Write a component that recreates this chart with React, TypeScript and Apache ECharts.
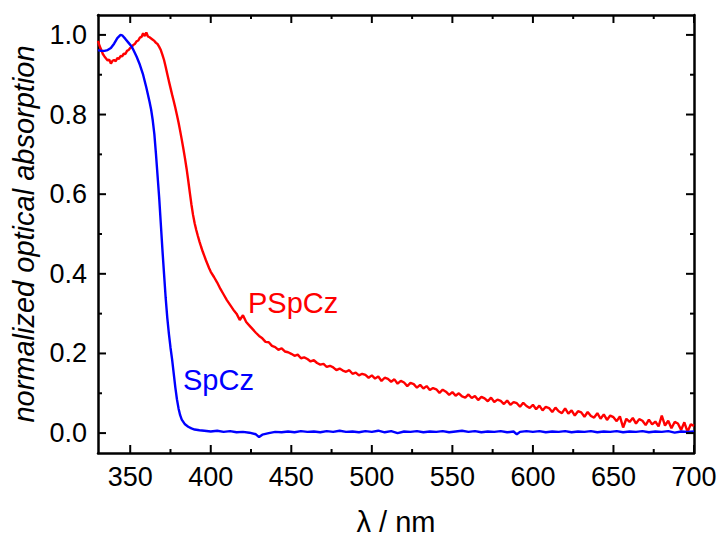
import React, { useEffect, useRef } from "react";
import * as echarts from "echarts";

// ---- data ----
const spczWavelength = [
  330, 332, 334, 336, 338, 340, 342, 344, 345, 347, 349, 351, 352, 354, 356, 358, 360, 362, 363, 364, 365, 366, 367,
  368, 369, 370, 371, 372, 373, 374, 375, 376, 377, 378, 379, 380, 381, 382, 384, 386, 388, 390, 393,
  396, 400, 404, 408, 412, 416, 420, 424, 428, 430, 432, 436, 440, 444, 448, 452, 456, 460, 464, 468, 472, 476,
  480, 484, 488, 492, 496, 500, 504, 508, 512, 516, 520, 524, 528, 532, 536, 540, 544, 548, 552, 556, 560, 564,
  568, 572, 576, 580, 584, 588, 590, 592, 596, 600, 604, 608, 612, 616, 620, 624, 628, 632, 636, 640, 644, 648,
  652, 656, 660, 664, 668, 672, 676, 680, 684, 688, 692, 696, 700,
];
const spczAbsorption = [
  0.962, 0.96, 0.96, 0.962, 0.967, 0.978, 0.992, 1.0, 0.999, 0.99, 0.98, 0.97, 0.962, 0.945, 0.925, 0.9, 0.868, 0.832,
  0.812, 0.785, 0.75, 0.7, 0.645, 0.59, 0.525, 0.46, 0.4, 0.34, 0.29, 0.25, 0.215, 0.185, 0.15, 0.115, 0.085, 0.062,
  0.045, 0.034, 0.022, 0.016, 0.012, 0.009, 0.007,
  0.006, 0.004, 0.006, 0.003, 0.005, 0.002, 0.003, 0.001, -0.003, -0.01, -0.004, 0.0, 0.003, 0.002, 0.004, 0.002,
  0.005, 0.003, 0.004, 0.002, 0.005, 0.003, 0.006, 0.003, 0.004, 0.002, 0.005, 0.003, 0.006, 0.002, 0.005, 0.0,
  0.004, 0.003, 0.005, 0.002, 0.004, 0.003, 0.005, 0.002, 0.004, 0.006, 0.003, 0.005, 0.002, 0.004, 0.003, 0.005,
  0.002, 0.004, -0.003, 0.003, 0.005, 0.003, 0.005, 0.002, 0.004, 0.003, 0.005, 0.002, 0.004, 0.003, 0.005, 0.002,
  0.004, 0.003, 0.005, 0.002, 0.004, 0.003, 0.005, 0.002, 0.004, 0.003, 0.005, 0.001, 0.004, 0.003, 0.004,
];

const pspczWavelength = [
  330, 331, 332, 333, 334, 335, 336, 337, 338, 339, 340, 341, 342, 343, 344, 345, 346, 347, 348, 349, 350, 351, 352,
  353, 354, 355, 356, 357, 358, 359, 360, 361, 362, 363, 364, 365, 366, 367, 368, 369, 370, 371, 372, 373, 374, 375,
  376, 377, 378, 379, 380, 381, 382, 383, 384, 385, 386, 387, 388, 389, 390, 391, 392, 393, 394, 395, 396, 397, 398,
  399, 400, 402, 404, 406, 408, 410, 412, 414, 416, 418, 420, 422, 424, 426, 428, 430, 432, 434, 436, 438, 440, 442,
  444, 446, 448, 450, 452, 454, 456, 458, 460, 462, 464, 466, 468, 470, 472, 474, 476, 478, 480, 482, 484, 486, 488,
  490, 492, 494, 496, 498, 500, 502, 504, 506, 508, 510, 512, 514, 516, 518, 520, 522, 524, 526, 528, 530, 532, 534,
  536, 538, 540, 542, 544, 546, 548, 550, 552, 554, 556, 558, 560, 562, 564, 566, 568, 570, 572, 574, 576, 578, 580,
  582, 584, 586, 588, 590, 592, 594, 596, 598, 600, 602, 604, 606, 608, 610, 612, 614, 616, 618, 620, 622, 624, 626,
  628, 630, 632, 634, 636, 638, 640, 642, 644, 646, 648, 650, 652, 654, 656, 658, 660, 662, 664, 666, 668, 670, 672,
  674, 676, 678, 680, 682, 684, 686, 688, 690, 692, 694, 696, 698, 700,
];
const pspczAbsorption = [
  // 330 – 399 (1 nm)
  0.985, 0.972, 0.963, 0.952, 0.946, 0.941, 0.936, 0.938, 0.928, 0.935, 0.937, 0.934, 0.942, 0.94, 0.947, 0.946,
  0.953, 0.952, 0.96, 0.962, 0.967, 0.97, 0.975, 0.978, 0.984, 0.986, 0.993, 0.995, 1.004, 0.997, 1.006, 0.996,
  0.994, 0.991, 0.988, 0.985, 0.98, 0.977, 0.97, 0.962, 0.95, 0.937, 0.92, 0.902, 0.884, 0.867, 0.85, 0.834, 0.817,
  0.799, 0.78, 0.759, 0.737, 0.714, 0.69, 0.664, 0.635, 0.604, 0.574, 0.548, 0.527, 0.51, 0.495, 0.481, 0.468,
  0.456, 0.445, 0.434, 0.424, 0.414,
  // 400 – 438 (2 nm)
  0.405, 0.392, 0.378, 0.362, 0.348, 0.334, 0.322, 0.31, 0.3, 0.284, 0.296, 0.279, 0.27, 0.261, 0.252, 0.244,
  0.238, 0.229, 0.228, 0.219,
  // 440 – 700 (2 nm)
  0.216, 0.209, 0.213, 0.205, 0.203, 0.199, 0.194, 0.197, 0.188, 0.19, 0.186, 0.18, 0.183, 0.176, 0.172, 0.174,
  0.166, 0.169, 0.165, 0.158, 0.162, 0.157, 0.154, 0.158, 0.149, 0.152, 0.145, 0.149, 0.146, 0.139, 0.145, 0.137,
  0.142, 0.131, 0.139, 0.136, 0.129, 0.135, 0.124, 0.131, 0.127, 0.118, 0.126, 0.123, 0.114, 0.121, 0.112, 0.118,
  0.108, 0.113, 0.11, 0.101, 0.109, 0.104, 0.096, 0.103, 0.094, 0.1, 0.092, 0.089, 0.097, 0.088, 0.093, 0.083,
  0.091, 0.087, 0.08, 0.089, 0.078, 0.084, 0.081, 0.073, 0.082, 0.071, 0.078, 0.075, 0.066, 0.076, 0.068, 0.063,
  0.071, 0.06, 0.069, 0.057, 0.066, 0.063, 0.053, 0.064, 0.055, 0.05, 0.062, 0.049, 0.057, 0.044, 0.055, 0.052,
  0.041, 0.053, 0.043, 0.039, 0.05, 0.036, 0.047, 0.033, 0.044, 0.04, 0.03, 0.042, 0.014, 0.036, 0.028, 0.038,
  0.024, 0.035, 0.031, 0.02, 0.034, 0.022, 0.029, 0.017, 0.044, 0.019, 0.031, 0.012, 0.028, 0.024, 0.008, 0.027,
  0.003, 0.022, 0.018,
];

const xMajorTicks = [350, 400, 450, 500, 550, 600, 650, 700];
const xMinorTicks = [375, 425, 475, 525, 575, 625, 675];
const yMajorTicks = [0, 0.2, 0.4, 0.6, 0.8, 1.0];
const yMinorTicks = [0.1, 0.3, 0.5, 0.7, 0.9];

const seriesNames = ["SpCz", "PSpCz"];
const xTitle = "λ / nm";
const yTitle = "normalized optical absorption";

const X_MIN = 330;
const X_MAX = 700;
const Y_MIN = -0.05;
const Y_MAX = 1.05;

const FONT = "'Liberation Sans', Arial, sans-serif";
const BLACK = "#000";
const MAJOR_LEN = 8;
const MINOR_LEN = 4;

function pairs(xs: number[], ys: number[]) {
  return xs.map((x, i) => [x, ys[i]]);
}

export default function App() {
  const ref = useRef<HTMLDivElement>(null);
  useEffect(() => {
    if (!ref.current) return;
    const chart = echarts.init(ref.current, undefined, { renderer: "svg" });

    const xBase = { type: "value", min: X_MIN, max: X_MAX, gridIndex: 0, splitLine: { show: false } };
    const yBase = { type: "value", min: Y_MIN, max: Y_MAX, gridIndex: 0, splitLine: { show: false } };
    const line = { show: true, onZero: false, lineStyle: { color: BLACK, width: 2.5 } };

    // tick items: [position value, tick length]
    const xTickData = xMajorTicks.map((v) => [v, MAJOR_LEN]).concat(xMinorTicks.map((v) => [v, MINOR_LEN]));
    const yTickData = yMajorTicks.map((v) => [v, MAJOR_LEN]).concat(yMinorTicks.map((v) => [v, MINOR_LEN]));
    const tickStyle = { stroke: BLACK, lineWidth: 2 };

    chart.setOption({
      animation: false,
      backgroundColor: "#fff",
      grid: { left: 98, right: 27, top: 15, bottom: 88, outerBoundsMode: "none", containLabel: false },
      xAxis: [
        {
          ...xBase,
          position: "bottom",
          axisLine: line,
          axisTick: { show: false },
          axisLabel: {
            customValues: xMajorTicks, fontSize: 27, color: BLACK, margin: 10, fontFamily: FONT,
          },
          name: xTitle,
          nameLocation: "middle",
          nameGap: 54,
          nameTextStyle: { fontSize: 29, color: BLACK, fontFamily: FONT },
        },
        { ...xBase, position: "top", axisLine: line, axisTick: { show: false }, axisLabel: { show: false } },
      ],
      yAxis: [
        {
          ...yBase,
          position: "left",
          axisLine: line,
          axisTick: { show: false },
          axisLabel: {
            customValues: yMajorTicks, fontSize: 27, color: BLACK, margin: 11, fontFamily: FONT,
            formatter: (v: number) => v.toFixed(1),
          },
          name: yTitle,
          nameLocation: "middle",
          nameGap: 54,
          nameTextStyle: { fontSize: 29, color: BLACK, fontFamily: FONT, fontStyle: "italic" },
        },
        { ...yBase, position: "right", axisLine: line, axisTick: { show: false }, axisLabel: { show: false } },
      ],
      series: [
        {
          name: seriesNames[1],
          type: "line",
          xAxisIndex: 0,
          yAxisIndex: 0,
          data: pairs(pspczWavelength, pspczAbsorption),
          showSymbol: false,
          symbol: "none",
          lineStyle: { color: "#ff0000", width: 2.4 },
          z: 2,
        },
        {
          name: seriesNames[0],
          type: "line",
          xAxisIndex: 0,
          yAxisIndex: 0,
          data: pairs(spczWavelength, spczAbsorption),
          showSymbol: false,
          symbol: "none",
          lineStyle: { color: "#0000ff", width: 2.4 },
          z: 3,
        },
        {
          name: "xTicks",
          type: "custom",
          xAxisIndex: 0,
          yAxisIndex: 0,
          silent: true,
          z: 5,
          data: xTickData.map(([v, len]) => [v, Y_MIN, len]),
          renderItem: (_params: any, api: any) => {
            const v = api.value(0);
            const len = api.value(2);
            const b = api.coord([v, Y_MIN]);
            const t = api.coord([v, Y_MAX]);
            return {
              type: "group",
              children: [
                { type: "line", shape: { x1: b[0], y1: b[1], x2: b[0], y2: b[1] - len }, style: tickStyle },
                { type: "line", shape: { x1: t[0], y1: t[1], x2: t[0], y2: t[1] + len }, style: tickStyle },
              ],
            };
          },
        },
        {
          name: "yTicks",
          type: "custom",
          xAxisIndex: 0,
          yAxisIndex: 0,
          silent: true,
          z: 5,
          data: yTickData.map(([v, len]) => [X_MIN, v, len]),
          renderItem: (_params: any, api: any) => {
            const v = api.value(1);
            const len = api.value(2);
            const l = api.coord([X_MIN, v]);
            const r = api.coord([X_MAX, v]);
            return {
              type: "group",
              children: [
                { type: "line", shape: { x1: l[0], y1: l[1], x2: l[0] + len, y2: l[1] }, style: tickStyle },
                { type: "line", shape: { x1: r[0], y1: r[1], x2: r[0] - len, y2: r[1] }, style: tickStyle },
              ],
            };
          },
        },
      ],
      graphic: [
        {
          type: "text", left: 248, top: 288, z: 10,
          style: { text: seriesNames[1], fill: "#ff0000", fontSize: 29, fontFamily: FONT },
        },
        {
          type: "text", left: 183, top: 365, z: 10,
          style: { text: seriesNames[0], fill: "#0000ff", fontSize: 29, fontFamily: FONT },
        },
      ],
    });
    return () => chart.dispose();
  }, []);

  return (
    <div
      ref={ref}
      style={{ position: "fixed", left: 0, top: 0, width: 721, height: 541, background: "#fff" }}
    />
  );
}
